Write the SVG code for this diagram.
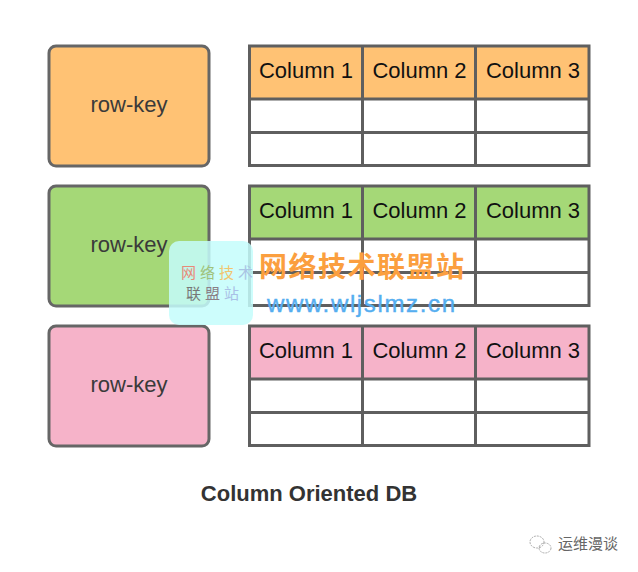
<svg xmlns="http://www.w3.org/2000/svg" width="638" height="572" viewBox="0 0 638 572">
<style>
.k{stroke:#666;stroke-width:3}
.l{stroke:#5f5f5f;stroke-width:3;fill:none}
text{font-family:"Liberation Sans",Arial,sans-serif}
.rk{font-size:22px;fill:#3a3a3a;text-anchor:middle}
.c{font-size:22px;fill:#111;text-anchor:middle}
.o{fill:#ffc274}.g{fill:#a5d877}.p{fill:#f6b3c9}
.cjk{font-family:"Noto Sans CJK SC","Noto Sans",sans-serif}
</style>
<defs>
<g id="grid">
<path class="l" d="M249.500 0V122M362.500 0V122M475.500 0V122M589 0V122M248 1H590.500M248 54H590.500M248 87.500H590.500M248 120.500H590.500"/>
<text class="c" x="306" y="33">Column 1</text>
<text class="c" x="419.500" y="33">Column 2</text>
<text class="c" x="533" y="33">Column 3</text>
</g>
</defs>
<rect width="638" height="572" fill="#fff"/>
<g id="row1">
<rect class="k o" x="49" y="46" width="160" height="120" rx="7"/>
<text class="rk" x="129" y="112">row-key</text>
<rect class="o" x="250" y="46" width="339" height="53"/>
<use href="#grid" y="45"/>
</g>
<g id="row2">
<rect class="k g" x="49" y="186" width="160" height="120" rx="7"/>
<text class="rk" x="129" y="252">row-key</text>
<rect class="g" x="250" y="186" width="339" height="53"/>
<use href="#grid" y="185"/>
</g>
<g id="row3">
<rect class="k p" x="49" y="326" width="160" height="120" rx="7"/>
<text class="rk" x="129" y="392">row-key</text>
<rect class="p" x="250" y="326" width="339" height="53"/>
<use href="#grid" y="325"/>
</g>
<g id="connectors"></g>
<text id="title" x="309" y="501" font-size="22" font-weight="700" fill="#333" text-anchor="middle">Column Oriented DB</text>
<g id="watermark">
<rect x="169" y="241" width="84" height="84" rx="10" fill="#c4fdfb" fill-opacity=".85"/>
<text class="cjk" font-size="15" x="181" y="278" letter-spacing="4" fill="#e88a78">网<tspan fill="#9fc27a">络</tspan><tspan fill="#f2c56e">技</tspan><tspan fill="#a9c4e4">术</tspan></text>
<text class="cjk" font-size="15" x="186" y="299" letter-spacing="4" fill="#777">联<tspan fill="#8a7f86">盟</tspan><tspan fill="#a9c0e6">站</tspan></text>
<text class="cjk" font-size="28" font-weight="700" x="259" y="277" fill="#fb9f3f" textLength="205" lengthAdjust="spacing">网络技术联盟站</text>
<text x="267" y="312" font-size="24" fill="#55aef0" stroke="#55aef0" stroke-width=".4" textLength="188" lengthAdjust="spacing">www.wljslmz.cn</text>
</g>
<g id="credit">
<g fill="none" stroke="#aaa" stroke-width="1" stroke-dasharray="2 1"><ellipse cx="537" cy="542" rx="7" ry="6"/><ellipse cx="545" cy="548" rx="6" ry="5"/></g>
<text class="cjk" x="558" y="549" font-size="15" fill="#666">运维漫谈</text>
</g>
</svg>
